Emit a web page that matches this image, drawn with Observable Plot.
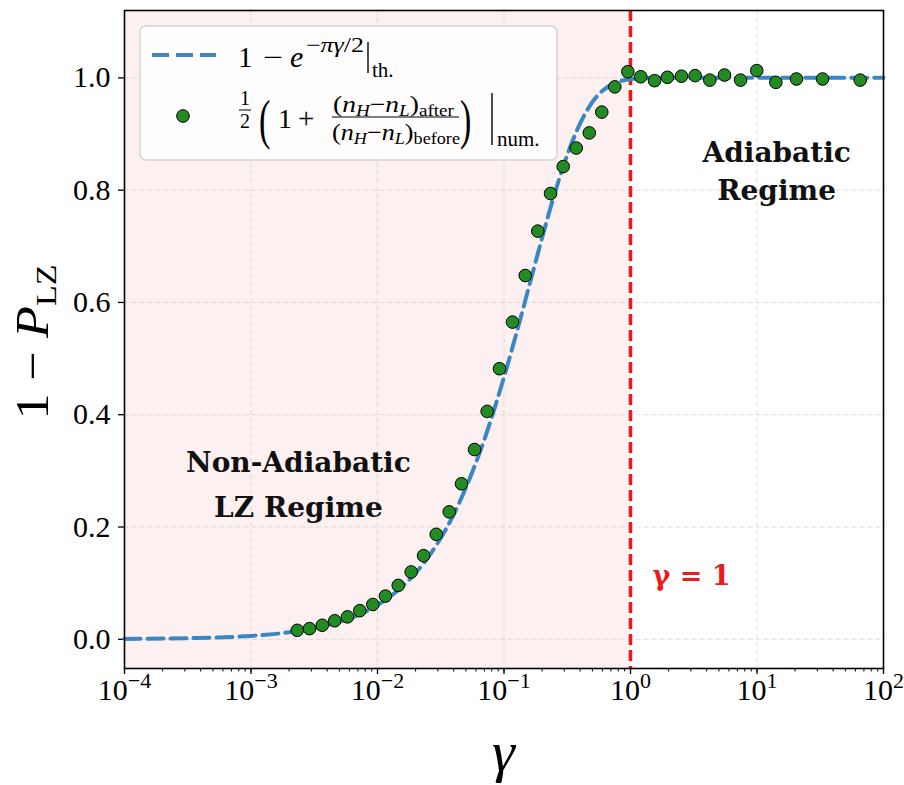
<!DOCTYPE html>
<html><head><meta charset="utf-8">
<script src="https://cdn.jsdelivr.net/npm/d3@7"></script>
<script src="https://cdn.jsdelivr.net/npm/@observablehq/plot@0.6"></script>
<style>body{margin:0;background:#fff}</style>
</head><body><div id="chart"></div>
<script>
// numerical points (gamma, 1 - P_LZ)
const numGamma = [0.00232,0.00290,0.00366,0.00459,0.00579,0.00724,0.00918,0.01156,0.01459,0.01845,
  0.02312,0.02911,0.03690,0.04613,0.05848,0.07362,0.09204,0.1167,0.1472,0.1849,
  0.2333,0.2938,0.3724,0.4721,0.5929,0.7516,0.9528,1.205,1.549,1.959,
  2.529,3.243,4.236,5.534,7.413,9.954,14.09,20.51,32.96,65.46];
const numValue = [0.016,0.019,0.025,0.033,0.040,0.051,0.062,0.077,0.096,0.120,
  0.149,0.187,0.227,0.277,0.338,0.406,0.482,0.565,0.648,0.727,
  0.794,0.842,0.875,0.902,0.939,0.984,1.011,1.002,0.995,1.001,
  1.003,1.004,0.996,1.005,0.996,1.013,0.992,0.998,0.998,0.996];
// theoretical curve samples
const thGamma = [1e-4,3e-4,1e-3,2e-3,3e-3,5e-3,7e-3,0.01,0.015,0.02,0.03,0.04,0.05,0.07,0.1,0.13,0.17,0.2,0.25,0.3,0.4,0.5,0.6,0.8,1,1.5,3,10,100];
const thValue = [0.0006,0.002,0.006,0.0125,0.019,0.031,0.043,0.061,0.090,0.118,0.172,0.222,0.270,0.356,0.467,0.558,0.656,0.715,0.792,0.848,0.919,0.957,0.977,0.993,0.998,1.0,1.0,1.0,1.0];
const nonAdiabaticRange = [1e-4, 1];
const criticalGamma = [1];
const xTicks = [1e-4,1e-3,1e-2,1e-1,1,10,100];
const xTickExp = ["−4","−3","−2","−1","0","1","2"];
const yTicks = [0,0.2,0.4,0.6,0.8,1.0];
const yTickLabels = ["0.0","0.2","0.4","0.6","0.8","1.0"];
const annotations = ["Non-Adiabatic\nLZ Regime", "Adiabatic\nRegime", "γ = 1"];

const BLUE = "#3a87c3", GREEN = "#228b22", RED = "#ee1a1a", SERIF = "Liberation Serif";

const plot = Plot.plot({
  width: 904, height: 785,
  marginLeft: 124, marginRight: 21, marginTop: 10, marginBottom: 117,
  style: {fontFamily: SERIF, background: "white", color: "black"},
  x: {type: "log", domain: [1e-4, 1e2]},
  y: {domain: [-0.052, 1.12]},
  marks: [
    Plot.rect([nonAdiabaticRange], {x1: d => d[0], x2: d => d[1], fill: "#fdf0f0"}),
    Plot.gridX(xTicks, {stroke: "#bbbbbb", strokeOpacity: 0.5, strokeDasharray: "5,3", strokeWidth: 0.9}),
    Plot.gridY(yTicks, {stroke: "#bbbbbb", strokeOpacity: 0.5, strokeDasharray: "5,3", strokeWidth: 0.9}),
    Plot.axisX({ticks: 60, tickSize: 3.5, tickFormat: () => "", label: null, strokeWidth: 1}),
    Plot.axisX(xTicks, {tickSize: 6, tickPadding: 4, tickFormat: d => xTickExp[xTicks.indexOf(d)], fontSize: 30, fontFamily: SERIF, fontVariant: "normal", label: null, strokeWidth: 1.3}),
    Plot.axisY(yTicks, {tickSize: 6, tickPadding: 8, tickFormat: d => yTickLabels[yTicks.indexOf(d)], fontSize: 30, fontFamily: SERIF, fontVariant: "normal", label: null, strokeWidth: 1.3}),
    Plot.ruleX(criticalGamma, {stroke: RED, strokeWidth: 3.5, strokeDasharray: "11,5"}),
    Plot.line(thGamma, {x: thGamma, y: thValue, stroke: BLUE, strokeWidth: 4, strokeDasharray: "16,7", curve: "monotone-x"}),
    Plot.dot(numGamma, {x: numGamma, y: numValue, r: 6.3, fill: GREEN, stroke: "black", strokeWidth: 1}),
    Plot.text([annotations[0]], {x: 0.00237, y: 0.283, text: d => d, fontFamily: "DejaVu Serif", fontWeight: "bold", fontSize: 28, lineHeight: 1.58, textAnchor: "middle", lineAnchor: "middle", fill: "#111"}),
    Plot.text([annotations[1]], {x: 14.3, y: 0.838, text: d => d, fontFamily: "DejaVu Serif", fontWeight: "bold", fontSize: 28, lineHeight: 1.37, textAnchor: "middle", lineAnchor: "middle", fill: "#111"}),
    Plot.text([annotations[2]], {x: 1, y: 0.112, dx: 22, text: d => d, fontFamily: "DejaVu Serif", fontWeight: "bold", fontSize: 27, textAnchor: "start", lineAnchor: "middle", fill: RED}),
    Plot.frame({stroke: "black", strokeWidth: 1.6})
  ]
});
document.getElementById("chart").append(plot);

const svg = d3.select(plot);
// superscript exponents on x tick labels
svg.selectAll('[aria-label="x-axis tick label"] text').each(function() {
  const t = d3.select(this);
  const exp = t.text();
  if (!exp) return;
  t.text("");
  t.append("tspan").text("10");
  t.append("tspan").text(exp).attr("font-size", 22).attr("dy", -12);
});

function txt(g, x, y, parts, opts = {}) {
  const t = g.append("text").attr("x", x).attr("y", y)
    .style("font-family", opts.family || SERIF).attr("fill", "black")
    .attr("text-anchor", opts.anchor || "start")
    .attr("font-size", opts.size || 28);
  if (opts.transform) t.attr("transform", opts.transform);
  if (opts.len) t.attr("textLength", opts.len).attr("lengthAdjust", "spacingAndGlyphs");
  for (const p of parts) {
    const s = t.append("tspan").text(p.t);
    if (p.s) s.attr("font-size", p.s);
    if (p.i) s.attr("font-style", "italic");
    if (p.dy) s.attr("dy", p.dy);
    if (p.dx) s.attr("dx", p.dx);
  }
  return t;
}
function vline(g, x, y1, y2, w) {
  g.append("line").attr("x1", x).attr("x2", x).attr("y1", y1).attr("y2", y2).attr("stroke", "black").attr("stroke-width", w);
}
function hline(g, x1, x2, y, w) {
  g.append("line").attr("x1", x1).attr("x2", x2).attr("y1", y).attr("y2", y).attr("stroke", "black").attr("stroke-width", w);
}

// axis labels
txt(svg, 0, 0, [{t: "1 − "}, {t: "P", i: 1}, {t: "LZ", s: 30, dy: 8}], {size: 46, anchor: "middle", transform: "translate(48,342) rotate(-90)", len: 155});
txt(svg, 503.5, 771, [{t: "γ", i: 1}], {size: 58, anchor: "middle"});

// legend
const lg = svg.append("g");
lg.append("rect").attr("x", 140).attr("y", 26).attr("width", 417).attr("height", 134).attr("rx", 6)
  .attr("fill", "white").attr("fill-opacity", 0.82).attr("stroke", "#d4d4d4").attr("stroke-width", 1.5);
lg.append("line").attr("x1", 152).attr("x2", 216).attr("y1", 55).attr("y2", 55)
  .attr("stroke", BLUE).attr("stroke-width", 4).attr("stroke-dasharray", "17,7");
lg.append("circle").attr("cx", 183).attr("cy", 116).attr("r", 6.3).attr("fill", GREEN).attr("stroke", "black");
// row 1: 1 - e^{-pi gamma/2} |_th.
txt(lg, 238, 67, [{t: "1"}], {size: 29});
txt(lg, 263, 67, [{t: "−"}], {size: 29, len: 20});
txt(lg, 290, 67, [{t: "e", i: 1}], {size: 30});
txt(lg, 306, 52, [{t: "−"}, {t: "πγ", i: 1}, {t: "/2"}], {size: 21, len: 58});
vline(lg, 368, 42, 73, 1.4);
txt(lg, 372, 77, [{t: "th."}], {size: 21});
// row 2: 1/2 (1 + frac) |_num.
txt(lg, 245, 105, [{t: "1"}], {size: 20, anchor: "middle"});
hline(lg, 239, 251, 110, 1);
txt(lg, 245, 128, [{t: "2"}], {size: 20, anchor: "middle"});
txt(lg, 0, 0, [{t: "("}], {size: 34, transform: "translate(259,138) scale(1,1.6)"});
txt(lg, 278, 128, [{t: "1"}], {size: 28});
txt(lg, 298, 128, [{t: "+"}], {size: 29});
txt(lg, 333, 112, [{t: "("}, {t: "n", i: 1}, {t: "H", i: 1, s: 16, dy: 4}, {t: "−", dy: -4}, {t: "n", i: 1}, {t: "L", i: 1, s: 16, dy: 4}, {t: ")", dy: -4}, {t: "after", s: 16, dy: 4}], {size: 23, len: 121});
hline(lg, 332, 459, 117, 1);
txt(lg, 332, 140, [{t: "("}, {t: "n", i: 1}, {t: "H", i: 1, s: 16, dy: 4}, {t: "−", dy: -4}, {t: "n", i: 1}, {t: "L", i: 1, s: 16, dy: 4}, {t: ")", dy: -4}, {t: "before", s: 16, dy: 4}], {size: 23, len: 128});
txt(lg, 0, 0, [{t: ")"}], {size: 34, transform: "translate(460,138) scale(1,1.6)"});
vline(lg, 492, 93, 145, 1.4);
txt(lg, 497, 146, [{t: "num."}], {size: 21});
</script>
</body></html>
